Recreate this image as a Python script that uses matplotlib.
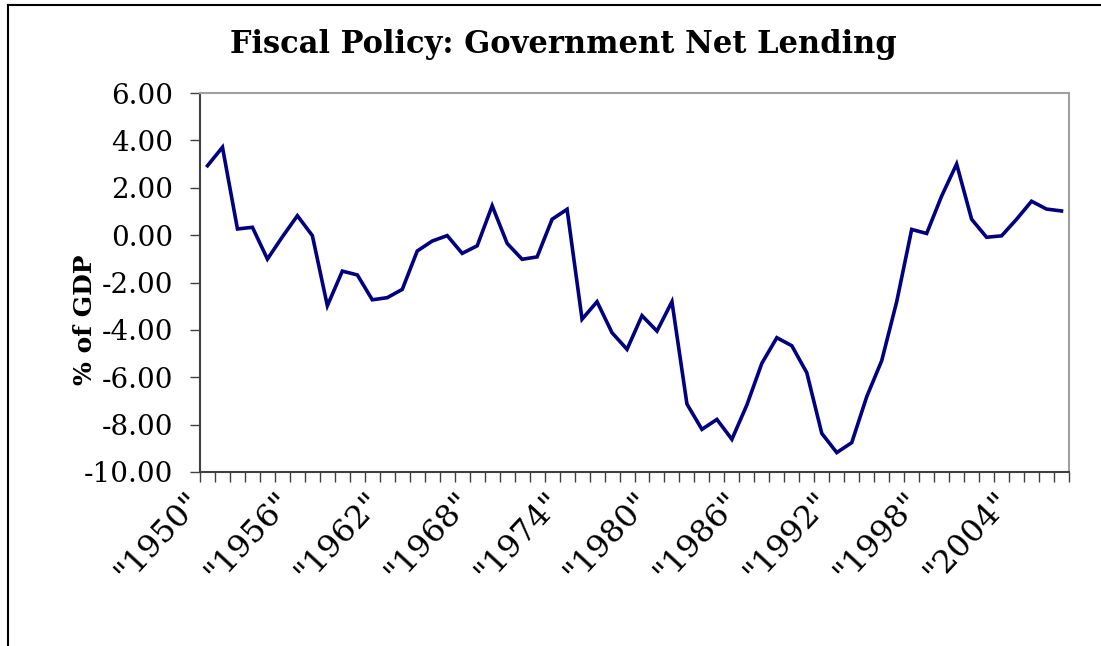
import matplotlib
matplotlib.use("Agg")
import matplotlib.pyplot as plt
from matplotlib.lines import Line2D
from matplotlib.ticker import FixedLocator, FuncFormatter

# Government net lending, % of GDP, 1950-2007
years = list(range(1950, 2008))
net_lending = [
    2.93, 3.71, 0.26, 0.33, -1.01, -0.07, 0.82, -0.02, -2.98, -1.52,
    -1.68, -2.73, -2.64, -2.29, -0.67, -0.25, -0.02, -0.77, -0.45, 1.24,
    -0.35, -1.02, -0.92, 0.67, 1.09, -3.55, -2.81, -4.12, -4.82, -3.40,
    -4.05, -2.81, -7.13, -8.20, -7.78, -8.62, -7.17, -5.41, -4.33, -4.67,
    -5.81, -8.37, -9.18, -8.76, -6.82, -5.30, -2.81, 0.24, 0.07, 1.65,
    3.00, 0.67, -0.09, -0.03, 0.67, 1.43, 1.10, 1.02,
]
y_ticks = [-10, -8, -6, -4, -2, 0, 2, 4, 6]
label_step = 6

title = "Fiscal Policy: Government Net Lending"
y_label = "% of GDP"

W, H = 1101, 646
fig = plt.figure(figsize=(W / 100, H / 100), dpi=100)
plt.rcParams["font.family"] = ["DejaVu Serif"]

# frame lines along the top and left edges of the chart
fig.add_artist(Line2D([8 / W, 8 / W], [0, 1 - 5 / H], transform=fig.transFigure,
                      color="black", lw=1.5))
fig.add_artist(Line2D([8 / W, 1], [1 - 5 / H, 1 - 5 / H], transform=fig.transFigure,
                      color="black", lw=1.5))

left, right, top, bottom = 200, 1069, 93, 472
ax = fig.add_axes([left / W, 1 - bottom / H, (right - left) / W, (bottom - top) / H])

x = list(range(len(years)))
ax.plot(x, net_lending, color="#000080", lw=2.6, solid_joinstyle="miter")

ax.set_xlim(-0.5, len(years) - 0.5)
ax.set_ylim(-10, 6)

# y axis
ax.yaxis.set_major_locator(FixedLocator(y_ticks))
ax.yaxis.set_major_formatter(FuncFormatter(lambda v, p: f"{v:.2f}"))
ax.tick_params(axis="y", direction="out", length=7.5, width=1, color="#404040",
               pad=12, labelsize=20)

# x axis: tick marks between categories, labels every few years
ax.xaxis.set_minor_locator(FixedLocator([i - 0.5 for i in range(len(years) + 1)]))
label_pos = list(range(0, len(years), label_step))
ax.xaxis.set_major_locator(FixedLocator(label_pos))
ax.set_xticklabels([f'"{years[i]}"' for i in label_pos], rotation=47,
                   ha="right", va="top", fontsize=23)
ax.tick_params(axis="x", which="major", length=0, pad=10)
ax.tick_params(axis="x", which="minor", direction="out", length=7.5, width=1,
               color="#404040")

for side in ("left", "bottom"):
    ax.spines[side].set_color("#404040")
    ax.spines[side].set_linewidth(1.5)
for side in ("top", "right"):
    ax.spines[side].set_color("#a0a0a0")
    ax.spines[side].set_linewidth(1.5)

fig.text(563 / W, 1 - 45 / H, title, ha="center", va="center",
         fontsize=22, fontweight="bold")
fig.text(85 / W, 1 - 320 / H, y_label, ha="center", va="center",
         rotation=90, fontsize=18, fontweight="bold")

fig.savefig("out.png", dpi=100)
